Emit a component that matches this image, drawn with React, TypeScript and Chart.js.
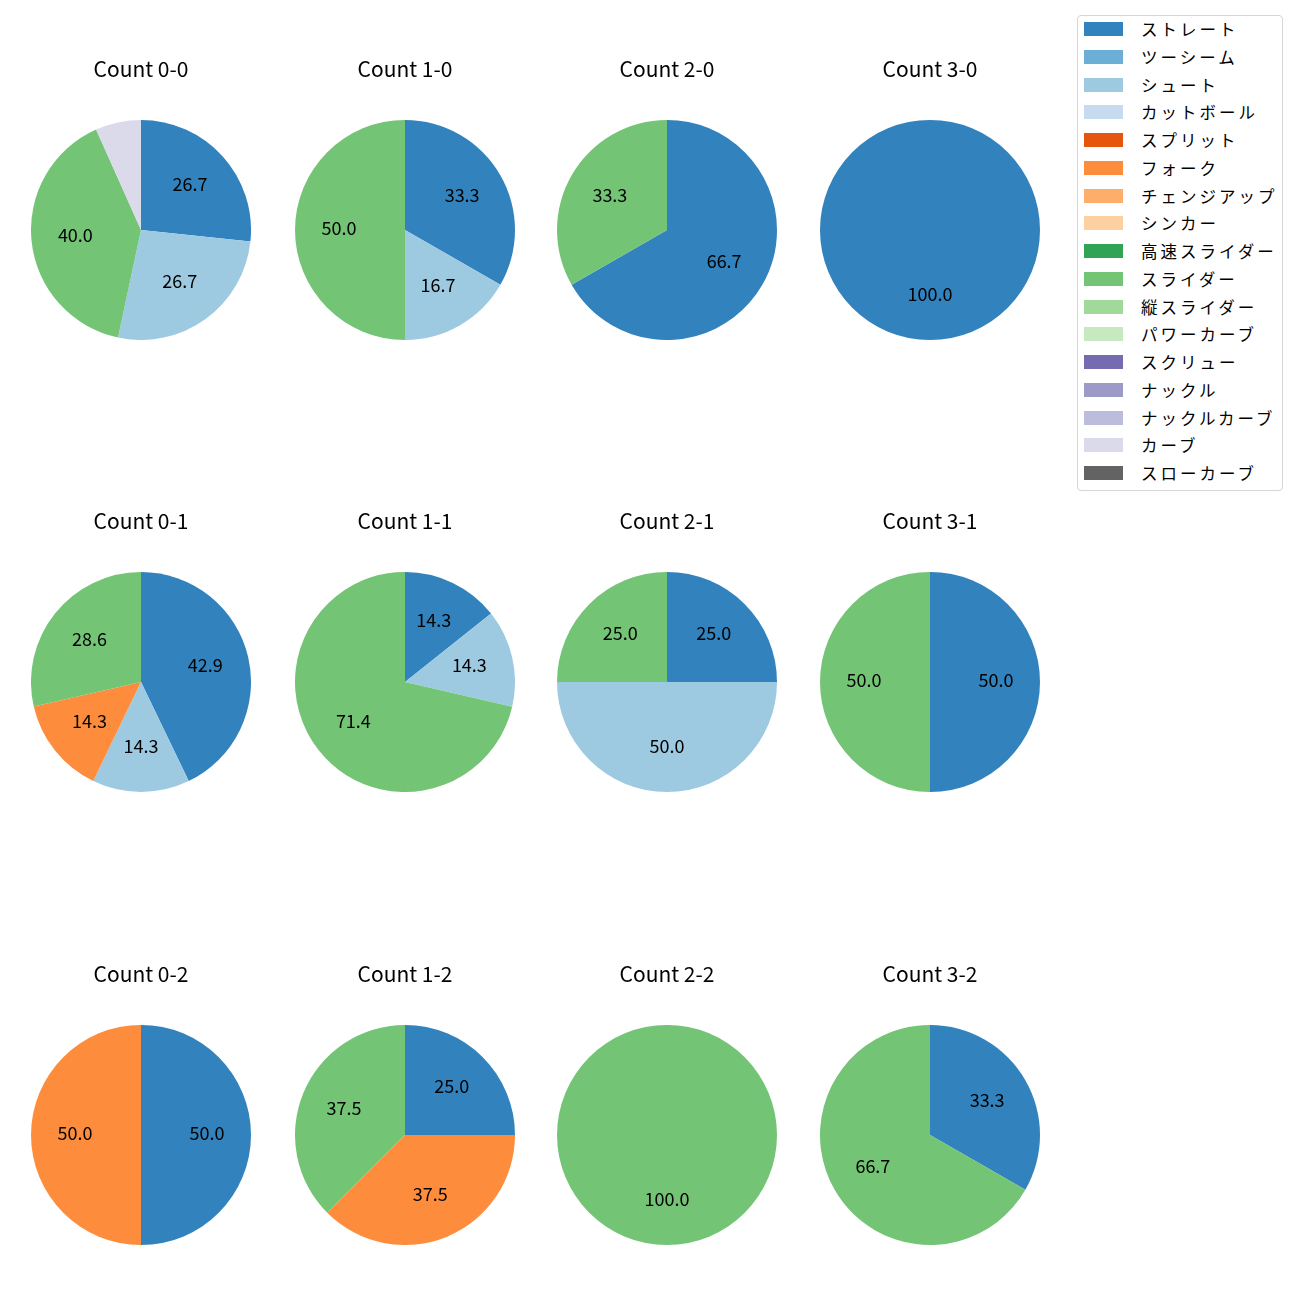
import React, { useEffect, useRef } from "react";
import { Chart, registerables } from "chart.js";

Chart.register(...registerables);

const pitchTypes = [
  "ストレート", "ツーシーム", "シュート", "カットボール", "スプリット", "フォーク",
  "チェンジアップ", "シンカー", "高速スライダー", "スライダー", "縦スライダー",
  "パワーカーブ", "スクリュー", "ナックル", "ナックルカーブ", "カーブ", "スローカーブ",
];
const pitchColors = [
  "#3182bd", "#6baed6", "#9ecae1", "#c6dbef", "#e6550d", "#fd8d3c",
  "#fdae6b", "#fdd0a2", "#31a354", "#74c476", "#a1d99b",
  "#c7e9c0", "#756bb1", "#9e9ac8", "#bcbddc", "#dadaeb", "#636363",
];

const countLabels = [
  "Count 0-0", "Count 1-0", "Count 2-0", "Count 3-0",
  "Count 0-1", "Count 1-1", "Count 2-1", "Count 3-1",
  "Count 0-2", "Count 1-2", "Count 2-2", "Count 3-2",
];

// share (%) per count, in countLabels order
const straight = [26.7, 33.3, 66.7, 100.0, 42.9, 14.3, 25.0, 50.0, 50.0, 25.0, 0, 33.3];
const shoot = [26.7, 16.7, 0, 0, 14.3, 14.3, 50.0, 0, 0, 0, 0, 0];
const fork = [0, 0, 0, 0, 14.3, 0, 0, 0, 50.0, 37.5, 0, 0];
const slider = [40.0, 50.0, 33.3, 0, 28.6, 71.4, 25.0, 50.0, 0, 37.5, 100.0, 66.7];
const curve = [6.7, 0, 0, 0, 0, 0, 0, 0, 0, 0, 0, 0];

const seriesByPitch: Record<string, number[]> = {
  "ストレート": straight,
  "シュート": shoot,
  "フォーク": fork,
  "スライダー": slider,
  "カーブ": curve,
};

const FONT = "'Noto Sans CJK JP', 'Noto Sans', sans-serif";
const centersX = [141, 404.5, 667, 930];
const centersY = [230, 682, 1135];
const R = 110;

const labelPlugin = {
  id: "sliceLabels",
  afterDatasetsDraw(chart: any) {
    const ctx = chart.ctx;
    const ds = chart.data.datasets[0];
    const meta = chart.getDatasetMeta(0);
    ctx.save();
    ctx.font = `18px ${FONT}`;
    ctx.fillStyle = "#000";
    ctx.textAlign = "center";
    ctx.textBaseline = "middle";
    meta.data.forEach((arc: any, j: number) => {
      const v = ds.data[j] as number;
      if (!v || v < 10) return;
      const p = arc.getProps(["x", "y", "startAngle", "endAngle", "outerRadius"], true);
      const mid = (p.startAngle + p.endAngle) / 2;
      const r = p.outerRadius * 0.6;
      ctx.fillText(v.toFixed(1), p.x + Math.cos(mid) * r, p.y + Math.sin(mid) * r - 2);
    });
    ctx.restore();
  },
};

function PieCell({ index }: { index: number }) {
  const ref = useRef<HTMLCanvasElement>(null);
  useEffect(() => {
    if (!ref.current) return;
    const data = pitchTypes.map((p) => (seriesByPitch[p] ? seriesByPitch[p][index] : 0));
    const chart = new Chart(ref.current, {
      type: "pie",
      data: {
        labels: pitchTypes,
        datasets: [{ data, backgroundColor: pitchColors, borderWidth: 0 }],
      },
      options: {
        responsive: false,
        animation: false,
        layout: { padding: 0 },
        plugins: {
          legend: { display: false },
          tooltip: { enabled: false },
          title: {
            display: true,
            text: countLabels[index],
            color: "#000",
            font: { family: FONT, size: 21, weight: "normal", lineHeight: 1 },
            padding: { top: 10, bottom: 40 },
          },
        },
      },
      plugins: [labelPlugin],
    });
    return () => chart.destroy();
  }, [index]);
  const cx = centersX[index % 4];
  const cy = centersY[Math.floor(index / 4)];
  return (
    <canvas
      ref={ref}
      width={220}
      height={291}
      style={{ position: "absolute", left: cx - R, top: cy - 181, width: 220, height: 291 }}
    />
  );
}

export default function App() {
  return (
    <div style={{ position: "absolute", left: 0, top: 0, width: 1300, height: 1300, background: "#fff" }}>
      {countLabels.map((_, i) => (
        <PieCell key={i} index={i} />
      ))}
      <div
        style={{
          position: "absolute",
          left: 1077,
          top: 15,
          width: 204,
          height: 474,
          border: "1px solid #d6d6d6",
          borderRadius: 4,
          background: "#fff",
        }}
      />
      {pitchTypes.map((name, k) => {
        const y = 29 + k * 27.75;
        return (
          <React.Fragment key={name}>
            <div
              style={{
                position: "absolute",
                left: 1084,
                top: y - 7,
                width: 39,
                height: 14,
                background: pitchColors[k],
              }}
            />
            <div
              style={{
                position: "absolute",
                left: 1141,
                top: y - 12,
                height: 24,
                lineHeight: "24px",
                fontFamily: FONT,
                fontSize: 16.5,
                letterSpacing: "3px",
                color: "#000",
                whiteSpace: "nowrap",
              }}
            >
              {name}
            </div>
          </React.Fragment>
        );
      })}
    </div>
  );
}
